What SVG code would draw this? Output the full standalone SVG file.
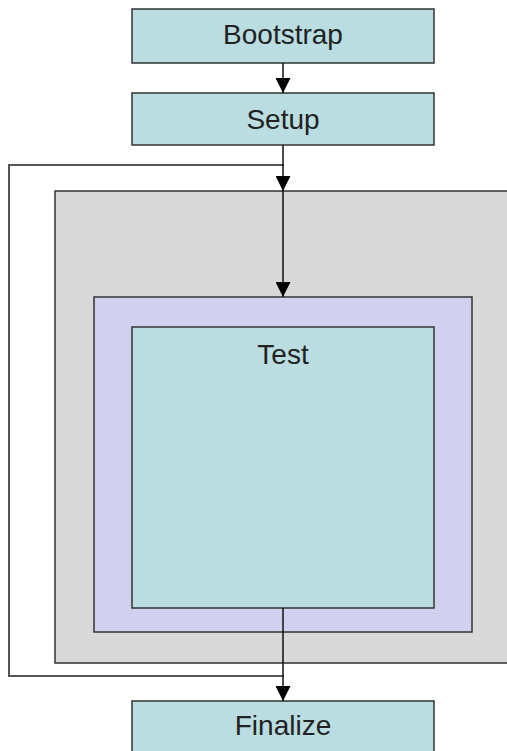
<svg xmlns="http://www.w3.org/2000/svg" width="507" height="751" viewBox="0 0 507 751">
<style>
.box{stroke:#333;stroke-width:1.5}
.teal{fill:#badde1}
.lbl{font-family:"Liberation Sans",Arial,sans-serif;font-size:28px;fill:#222;text-anchor:middle}
.con{stroke:#111;stroke-width:1.5;fill:none}
.loop{stroke:#555;stroke-width:2;fill:none}
</style>
<defs>
<marker id="ah" markerWidth="15" markerHeight="15" viewBox="0 0 15 15" refX="15" refY="7.5" orient="auto" markerUnits="userSpaceOnUse">
<path d="M0,0 L15,7.5 L0,15 Z" fill="#000"/>
</marker>
</defs>
<rect width="507" height="751" fill="#fff"/>
<g id="bootstrap">
<rect class="box teal" x="132" y="9" width="302" height="54"/>
<text class="lbl" x="283" y="44">Bootstrap</text>
</g>
<g id="setup">
<rect class="box teal" x="132" y="93" width="302" height="52"/>
<text class="lbl" x="283" y="129">Setup</text>
</g>
<g id="outer">
<rect class="box" fill="#d9d9d9" x="55" y="191" width="470" height="472"/>
</g>
<g id="middle">
<rect class="box" fill="#d1d1ef" x="94" y="297" width="378" height="335"/>
</g>
<g id="test">
<rect class="box teal" x="132" y="327" width="302" height="281"/>
<text class="lbl" x="283" y="364">Test</text>
</g>
<g id="finalize">
<rect class="box teal" x="132" y="701" width="302" height="60"/>
<text class="lbl" x="283" y="735">Finalize</text>
</g>
<g id="connectors">
<polyline class="loop" points="284,676 9,676 9,165 284,165"/>
<line class="con" x1="283" y1="63" x2="283" y2="93" marker-end="url(#ah)"/>
<line class="con" x1="283" y1="145" x2="283" y2="191" marker-end="url(#ah)"/>
<line class="con" x1="283" y1="191" x2="283" y2="297" marker-end="url(#ah)"/>
<line class="con" x1="283" y1="608" x2="283" y2="701" marker-end="url(#ah)"/>
</g>
</svg>
